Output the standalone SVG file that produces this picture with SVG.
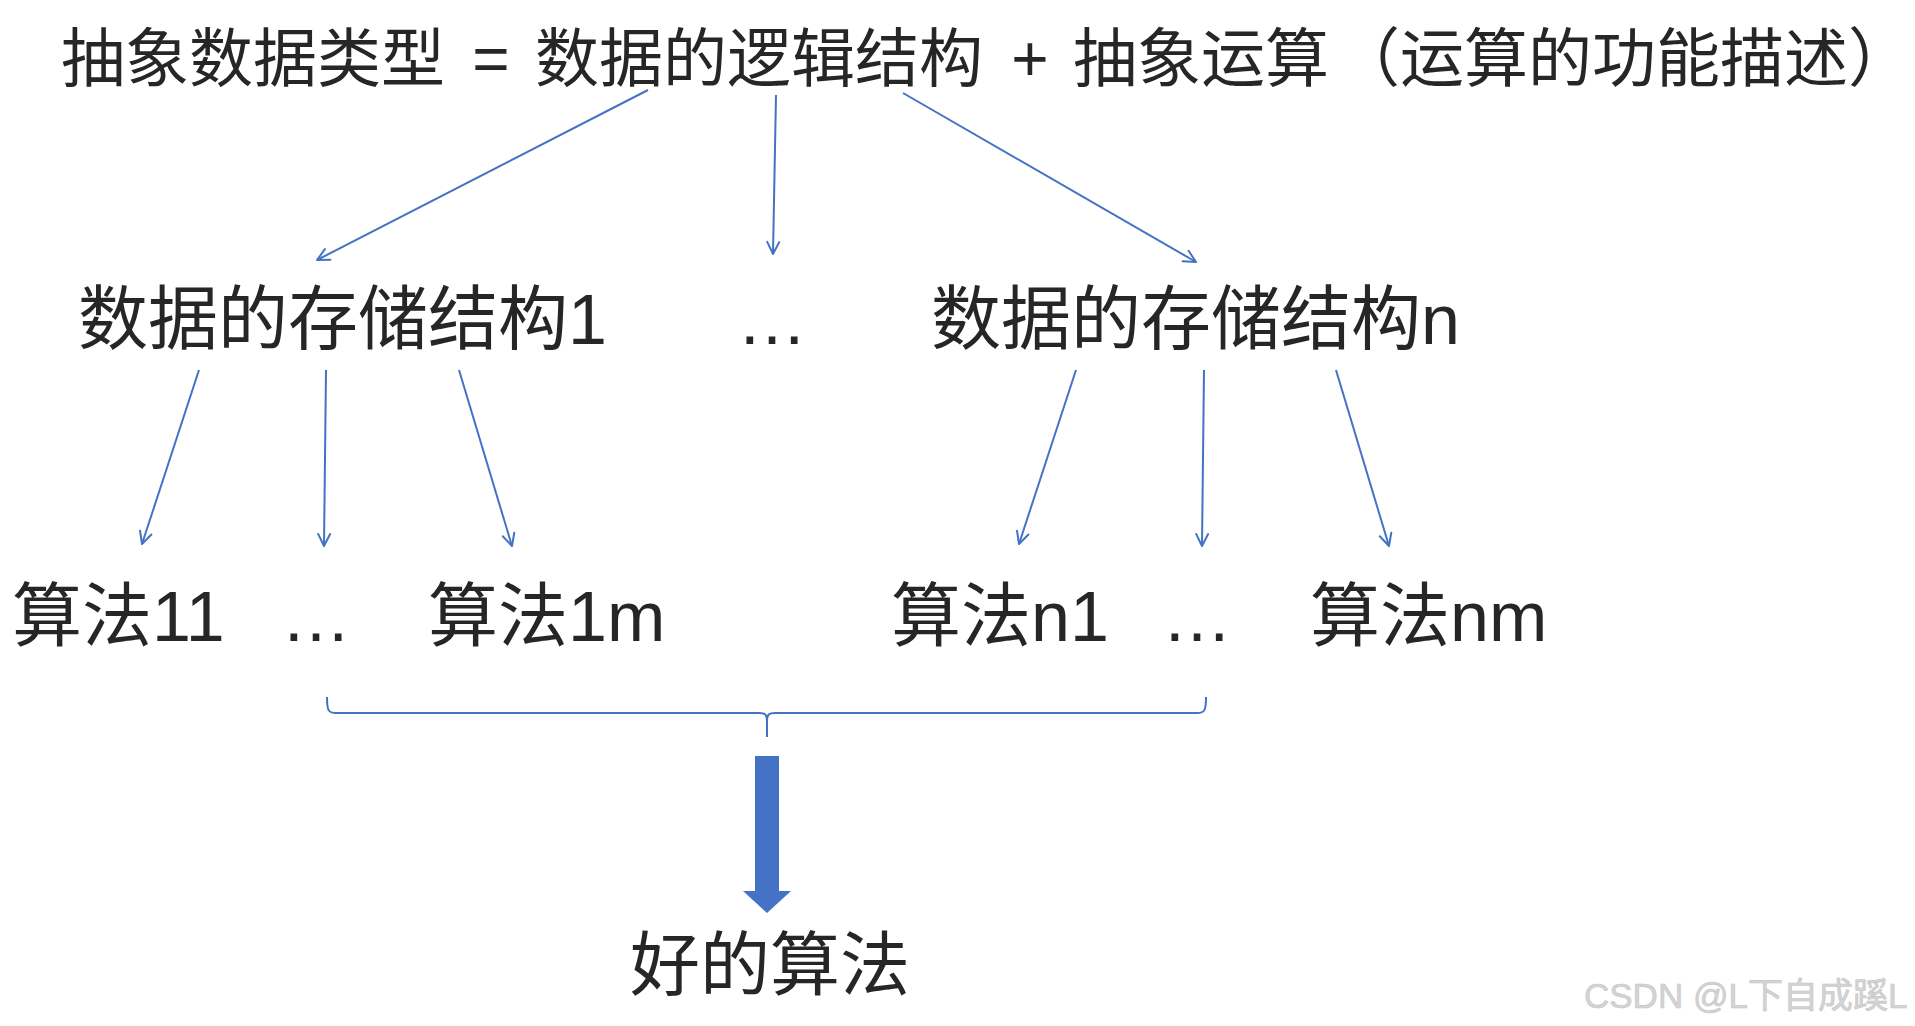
<svg xmlns="http://www.w3.org/2000/svg" width="1915" height="1026" viewBox="0 0 1915 1026">
  <style>
    .t { font-family: "Liberation Sans", "Noto Sans CJK SC", sans-serif; fill: #262626; }
    .t64 { font-size: 64px; }
    .t70 { font-size: 70px; }
    .conn { stroke: #4472C4; stroke-width: 2; fill: none; }
    .wm { font-family: "Liberation Sans", "Noto Sans CJK SC", sans-serif; font-size: 35px; fill: #d4d4d4; stroke: #c4c4c4; stroke-width: 0.6; }
  </style>
  <defs>
    <marker id="arr" viewBox="0 0 16 16" refX="14" refY="8" markerWidth="16" markerHeight="16" markerUnits="userSpaceOnUse" orient="auto">
      <path d="M2,2 L14,8 L2,14" fill="none" stroke="#4472C4" stroke-width="2" stroke-linecap="round" stroke-linejoin="round"/>
    </marker>
  </defs>
  <rect x="0" y="0" width="1915" height="1026" fill="#ffffff"/>

  <g id="adt">
    <text class="t t64" x="61" y="81">抽象数据类型</text>
    <text class="t t64" x="491" y="81" text-anchor="middle">=</text>
    <text class="t t64" x="535" y="81">数据的逻辑结构</text>
    <text class="t t64" x="1030" y="81" text-anchor="middle">+</text>
    <text class="t t64" x="1073" y="81">抽象运算</text>
    <text class="t t64" x="1336" y="81">（运算的功能描述）</text>
  </g>

  <g id="storage1"><text class="t t70" x="78" y="344">数据的存储结构1</text></g>
  <g id="storage-dots"><text class="t t70" x="737" y="344">…</text></g>
  <g id="storagen"><text class="t t70" x="931" y="344">数据的存储结构n</text></g>

  <g id="alg11"><text class="t t70" x="12" y="641">算法11</text></g>
  <g id="alg1-dots"><text class="t t70" x="281" y="641">…</text></g>
  <g id="alg1m"><text class="t t70" x="428" y="641">算法1m</text></g>
  <g id="algn1"><text class="t t70" x="891" y="641">算法n1</text></g>
  <g id="algn-dots"><text class="t t70" x="1162" y="641">…</text></g>
  <g id="algnm"><text class="t t70" x="1310" y="641">算法nm</text></g>

  <g id="good"><text class="t t70" x="630" y="990">好的算法</text></g>

  <g id="connectors">
    <line class="conn" x1="648" y1="90" x2="317" y2="260" marker-end="url(#arr)"/>
    <line class="conn" x1="776" y1="95" x2="773" y2="254" marker-end="url(#arr)"/>
    <line class="conn" x1="903" y1="93" x2="1196" y2="262" marker-end="url(#arr)"/>

    <line class="conn" x1="199" y1="370" x2="142" y2="544" marker-end="url(#arr)"/>
    <line class="conn" x1="326" y1="370" x2="324" y2="546" marker-end="url(#arr)"/>
    <line class="conn" x1="459" y1="370" x2="512" y2="546" marker-end="url(#arr)"/>
    <line class="conn" x1="1076" y1="370" x2="1019" y2="544" marker-end="url(#arr)"/>
    <line class="conn" x1="1204" y1="370" x2="1202" y2="546" marker-end="url(#arr)"/>
    <line class="conn" x1="1336" y1="370" x2="1389" y2="546" marker-end="url(#arr)"/>

    <path class="conn" d="M327,697 C327,710 328,713 336,713 L759,713 C765,713 767,714 767,722 L767,737 M767,722 C767,714 769,713 775,713 L1197,713 C1205,713 1206,710 1206,697"/>

    <path d="M755,756 L779,756 L779,891 L791,891 L767,913 L743,891 L755,891 Z" fill="#4472C4"/>
  </g>

  <g id="watermark"><text class="wm" x="1584" y="1008">CSDN @L下自成蹊L</text></g>
</svg>
